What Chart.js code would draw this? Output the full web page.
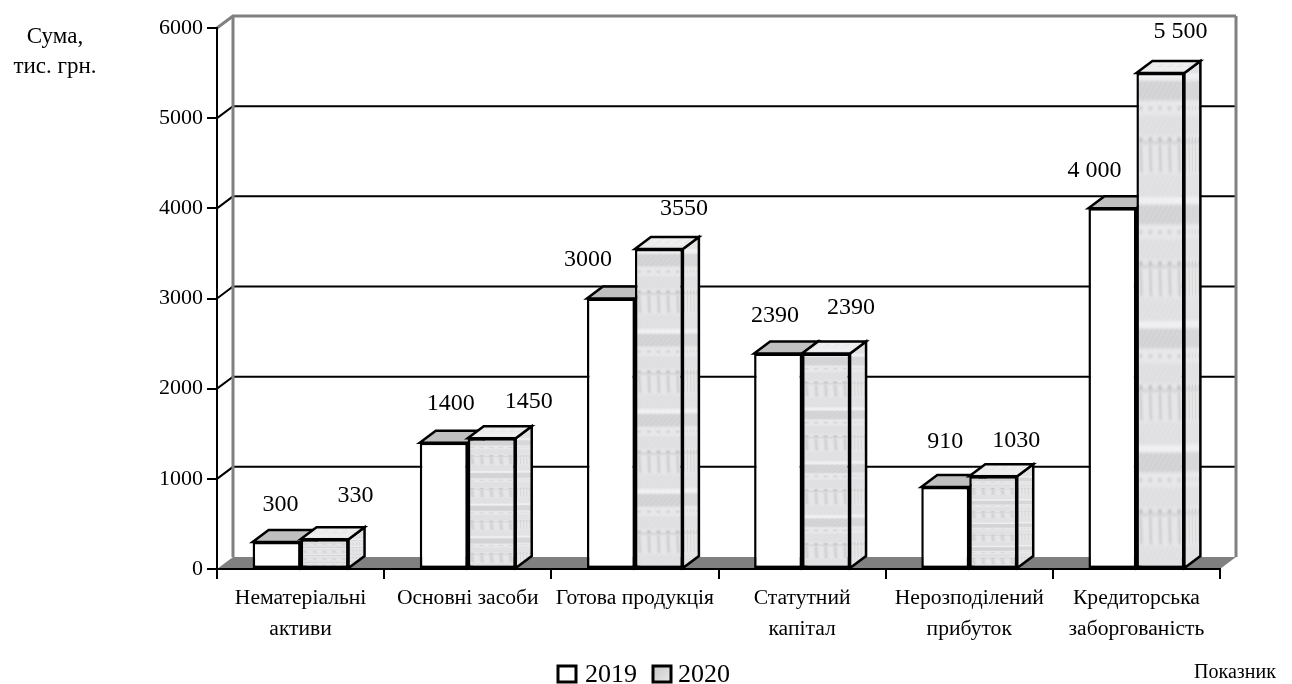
<!DOCTYPE html>
<html lang="uk">
<head>
<meta charset="utf-8">
<title>Показники 2019–2020</title>
<style>
  html, body { margin: 0; padding: 0; background: #fff; }
  #wrap { position: absolute; left: 0; top: 0; width: 1292px; height: 684px; }
</style>
<script src="https://cdn.jsdelivr.net/npm/chart.js@4"></script>
</head>
<body>
<div id="wrap"><canvas id="chart" width="1292" height="684"></canvas></div>
<script>
const categories = [
  ['Нематеріальні', 'активи'],
  'Основні засоби',
  'Готова продукція',
  ['Статутний', 'капітал'],
  ['Нерозподілений', 'прибуток'],
  ['Кредиторська', 'заборгованість']
];
const years = ['2019', '2020'];
const values2019 = [300, 1400, 3000, 2390, 910, 4000];
const values2020 = [330, 1450, 3550, 2390, 1030, 5500];
const labels2019 = ['300', '1400', '3000', '2390', '910', '4 000'];
const labels2020 = ['330', '1450', '3550', '2390', '1030', '5 500'];
const yTicks = [0, 1000, 2000, 3000, 4000, 5000, 6000];

// Hand placement of the value captions, relative to the top-centre of each bar.
const captionShift2019 = [[4, -37], [7, -39], [-23, -39], [-3, -38], [0, -45], [-18, -38]];
const captionShift2020 = [[31, -44], [37, -37], [25, -40], [25, -46], [23, -35], [20, -41]];

const SERIF = '"Liberation Serif", "Times New Roman", serif';
const DEPTH_X = 16;
const DEPTH_Y = -12;
const WALL_GREY = '#808080';

// Woven greyscale swatch that is stretched over the 2020 bars:
// four repeats of a light strip, diagonal hatching, and rows of dots and ticks.
function buildTexture() {
  const raw = document.createElement('canvas');
  raw.width = 48;
  raw.height = 400;
  const g = raw.getContext('2d');
  g.fillStyle = '#e6e6e8';
  g.fillRect(0, 0, 48, 400);

  const hatch = (y, h, colour) => {
    g.save();
    g.beginPath();
    g.rect(0, y, 48, h);
    g.clip();
    g.strokeStyle = colour;
    g.lineWidth = 1.3;
    for (let x = -20; x < 60; x += 5) {
      g.beginPath();
      g.moveTo(x, y + h);
      g.lineTo(x + h * 0.7, y);
      g.stroke();
    }
    g.restore();
  };
  const dots = (y, colour) => {
    g.fillStyle = colour;
    for (let col = 0; col < 5; col++) g.fillRect(3 + col * 9.6, y, 2.6, 2.6);
  };
  const strokes = (y, h, colour) => {
    g.strokeStyle = colour;
    g.lineWidth = 1.2;
    for (let col = 0; col < 5; col++) {
      const x = 4.2 + col * 9.6;
      g.beginPath();
      g.moveTo(x, y);
      g.lineTo(x + 0.8, y + h);
      g.stroke();
    }
  };

  for (let band = 0; band < 4; band++) {
    const y0 = band * 100;
    g.fillStyle = '#f0f0f2';
    g.fillRect(0, y0, 48, 6);
    g.fillStyle = '#dcdcde';
    g.fillRect(0, y0 + 6, 48, 16);
    hatch(y0 + 6, 16, '#c2c2c4');
    g.fillStyle = '#e8e8ea';
    g.fillRect(0, y0 + 22, 48, 12);
    dots(y0 + 27, '#c4c4c6');
    hatch(y0 + 34, 16, '#d4d4d6');
    dots(y0 + 52, '#acacae');
    g.fillStyle = '#d0d0d2';
    g.fillRect(0, y0 + 55, 48, 2);
    strokes(y0 + 58, 22, '#b4b4b6');
    hatch(y0 + 82, 18, '#d6d6d8');
  }

  // A slight softening keeps the weave from looking like hard ruled lines.
  const c = document.createElement('canvas');
  c.width = 48;
  c.height = 400;
  const soft = c.getContext('2d');
  soft.drawImage(raw, 0, 0);
  soft.filter = 'blur(0.8px)';
  soft.drawImage(raw, 0, 0);
  return c;
}
const texture = buildTexture();

function patternFor(ctx, a, b, c, d, e, f) {
  const p = ctx.createPattern(texture, 'repeat');
  p.setTransform(new DOMMatrix([a, b, c, d, e, f]));
  return p;
}

// Front face of a 2020 bar: the swatch fills the bar from its top to the axis.
function frontFill(context) {
  if (context.dataIndex === undefined) return '#d8d8d8';
  const chart = context.chart;
  const yScale = chart.scales.y, xScale = chart.scales.x;
  const top = yScale.getPixelForValue(values2020[context.dataIndex]);
  const base = yScale.getPixelForValue(0);
  const left = xScale.getPixelForValue(context.dataIndex);
  return patternFor(chart.ctx, 1, 0, 0, (base - top) / 400, left, top);
}

function polygon(ctx, pts, fill, stroke, width) {
  ctx.beginPath();
  pts.forEach((p, i) => i ? ctx.lineTo(p[0], p[1]) : ctx.moveTo(p[0], p[1]));
  ctx.closePath();
  if (fill) { ctx.fillStyle = fill; ctx.fill(); }
  if (stroke) { ctx.strokeStyle = stroke; ctx.lineWidth = width; ctx.lineJoin = 'miter'; ctx.stroke(); }
}

// Top and side faces of one series.
function drawDepthFaces(ctx, meta, textured) {
  ctx.save();
  meta.data.forEach(bar => {
    const w = bar.width, l = bar.x - w / 2, r = bar.x + w / 2, t = bar.y, b = bar.base;
    const side = [[r, t], [r + DEPTH_X, t + DEPTH_Y], [r + DEPTH_X, b + DEPTH_Y], [r, b]];
    const topFace = [[l, t], [l + DEPTH_X, t + DEPTH_Y], [r + DEPTH_X, t + DEPTH_Y], [r, t]];
    const sideFill = textured
      ? patternFor(ctx, DEPTH_X / 48, 0, 0, (b - t) / 400, r, t)
      : '#808080';
    if (textured) {
      polygon(ctx, side, '#f0f0f2');
      ctx.globalAlpha = 0.85;
    }
    polygon(ctx, side, sideFill);
    ctx.globalAlpha = 1;
    polygon(ctx, side, null, '#000', 2.5);
    if (textured) {
      polygon(ctx, topFace, '#f6f6f7');
      ctx.globalAlpha = 0.4;
      polygon(ctx, topFace, patternFor(ctx, 1, 0, DEPTH_X / 100, DEPTH_Y / 100, l, t));
      ctx.globalAlpha = 1;
      polygon(ctx, topFace, null, '#000', 2.5);
    } else {
      polygon(ctx, topFace, '#c0c0c0', '#000', 2.5);
    }
  });
  ctx.restore();
}

const box3d = {
  id: 'box3d',
  // Floor and back wall sit underneath the axes.
  beforeDraw(chart) {
    const { ctx, chartArea: a, scales: { y } } = chart;
    ctx.save();
    polygon(ctx, [[a.left, a.bottom], [a.left + DEPTH_X, a.bottom + DEPTH_Y],
                  [a.right + DEPTH_X, a.bottom + DEPTH_Y], [a.right, a.bottom]], WALL_GREY);
    yTicks.forEach(v => {
      if (v === 0) return;
      const py = y.getPixelForValue(v);
      const last = v === yTicks[yTicks.length - 1];
      ctx.strokeStyle = last ? WALL_GREY : '#000';
      ctx.lineWidth = last ? 3 : 2;
      ctx.beginPath();
      ctx.moveTo(a.left, py);
      ctx.lineTo(a.left + DEPTH_X, py + DEPTH_Y);
      ctx.lineTo(a.right + DEPTH_X, py + DEPTH_Y);
      ctx.stroke();
    });
    ctx.strokeStyle = WALL_GREY;
    ctx.lineWidth = 3;
    const wallTop = y.getPixelForValue(6000) + DEPTH_Y;
    const wallBottom = a.bottom + DEPTH_Y;
    ctx.beginPath();
    ctx.moveTo(a.left + DEPTH_X, wallBottom);
    ctx.lineTo(a.left + DEPTH_X, wallTop);
    ctx.moveTo(a.right + DEPTH_X, wallBottom);
    ctx.lineTo(a.right + DEPTH_X, wallTop);
    ctx.stroke();
    ctx.restore();
  },
  // The 2019 boxes stand behind the 2020 boxes, so 2020 is painted last.
  beforeDatasetDraw(chart, args) {
    if (args.index === 1) return false;
    drawDepthFaces(chart.ctx, args.meta, false);
  },
  afterDatasetsDraw(chart) {
    const meta = chart.getDatasetMeta(1);
    drawDepthFaces(chart.ctx, meta, true);
    meta.data.forEach(bar => bar.draw(chart.ctx));
  },
  afterDraw(chart) {
    const { ctx } = chart;
    ctx.save();
    ctx.textBaseline = 'middle';
    ctx.textAlign = 'center';
    ctx.fillStyle = '#000';

    // Value captions
    ctx.font = '24px ' + SERIF;
    const captionSets = [[labels2019, captionShift2019], [labels2020, captionShift2020]];
    captionSets.forEach(([texts, shifts], ds) => {
      chart.getDatasetMeta(ds).data.forEach((bar, i) => {
        ctx.fillText(texts[i], bar.x + shifts[i][0], bar.y + shifts[i][1]);
      });
    });

    // Axis names
    ctx.font = '23px ' + SERIF;
    ctx.fillText('Сума,', 55, 37);
    ctx.fillText('тис. грн.', 55, 67);
    ctx.font = '20px ' + SERIF;
    ctx.fillText('Показник', 1235, 673);

    // Series key under the plot
    const boxes = [558, 653];
    const textGap = [27, 25];
    ctx.font = '26px ' + SERIF;
    ctx.textAlign = 'left';
    chart.data.datasets.forEach((ds, i) => {
      let fill = '#ffffff';
      if (i === 1) {
        fill = ctx.createLinearGradient(boxes[i], 666, boxes[i] + 18, 682);
        fill.addColorStop(0, '#c8c8c8');
        fill.addColorStop(1, '#e8e8e8');
      }
      polygon(ctx, [[boxes[i], 666], [boxes[i] + 18, 666], [boxes[i] + 18, 682], [boxes[i], 682]], fill, '#000', 3);
      ctx.fillStyle = '#000';
      ctx.fillText(ds.label, boxes[i] + textGap[i], 675);
    });
    ctx.restore();
  }
};

new Chart(document.getElementById('chart'), {
  type: 'bar',
  data: {
    labels: categories,
    datasets: [
      { label: years[0], data: values2019, backgroundColor: '#ffffff',
        borderColor: '#000', borderWidth: 2.5, borderSkipped: false },
      { label: years[1], data: values2020, backgroundColor: frontFill,
        borderColor: '#000', borderWidth: 2.5, borderSkipped: false }
    ]
  },
  plugins: [box3d],
  options: {
    responsive: false,
    animation: false,
    events: [],
    layout: { autoPadding: false, padding: { left: 0, top: 28, right: 72, bottom: 0 } },
    datasets: { bar: { categoryPercentage: 0.574, barPercentage: 1 } },
    plugins: { legend: { display: false }, tooltip: { enabled: false } },
    scales: {
      x: {
        offset: true,
        afterFit(scale) { scale.height = 115; },
        border: { color: '#000', width: 2 },
        grid: { offset: true, drawOnChartArea: false, color: '#000', lineWidth: 2, tickLength: 10, tickColor: '#000' },
        ticks: { color: '#000', maxRotation: 0, autoSkip: false, padding: 4,
                 font: { family: SERIF, size: 21.6, lineHeight: 1.44 } }
      },
      y: {
        min: 0,
        max: 6000,
        afterFit(scale) { scale.width = 217; },
        afterBuildTicks(scale) { scale.ticks = yTicks.map(value => ({ value })); },
        border: { color: '#000', width: 2 },
        grid: { drawOnChartArea: false, color: '#000', lineWidth: 2, tickLength: 10, tickColor: '#000' },
        ticks: { color: '#000', padding: 4, font: { family: SERIF, size: 22 }, callback: v => String(v) }
      }
    }
  }
});
</script>
</body>
</html>
